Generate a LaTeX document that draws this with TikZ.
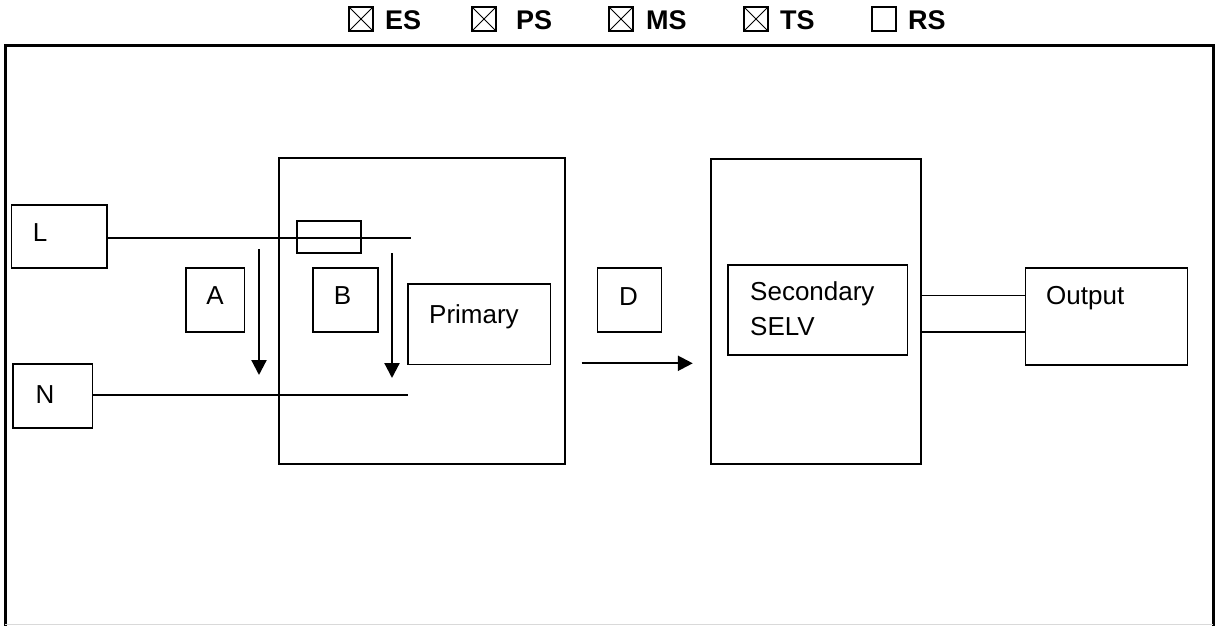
\documentclass[tikz,border=0pt]{standalone}
\usepackage{fontspec}
\setmainfont{Liberation Sans}
\usetikzlibrary{arrows.meta}
\begin{document}
\begin{tikzpicture}[x=1pt,y=-1pt,
  box/.style={draw,line width=1.5pt,inner sep=0pt,outer sep=0pt,anchor=north west},
  bigbox/.style={box,line width=2pt},
  lbl/.style={inner sep=0pt,font=\fontsize{26}{30}\selectfont},
  hdr/.style={inner sep=0pt,anchor=base west,font=\fontsize{27}{30}\selectfont\bfseries},
  chk/.style={draw,line width=1.5pt,inner sep=0pt,outer sep=0pt,minimum size=24pt,anchor=north west},
  cross/.style={line width=0.9pt},
  wire/.style={line width=1.3pt},
  thickwire/.style={line width=2pt},
  arr/.style={line width=2.2pt,-{Triangle[width=15pt,length=15pt]}}]
\useasboundingbox (0,0) rectangle (1215,625);
% outer frame
\draw[line width=3pt] (5,626) -- (5,45) -- (1213,45) -- (1213,626);
\draw[black!15,line width=1pt] (5,624) -- (1213,624);
% header checkboxes
\node[chk] (cES) at (349,7) {};
\node[chk] (cPS) at (472,7) {};
\node[chk] (cMS) at (609,7) {};
\node[chk] (cTS) at (744,7) {};
\node[chk] (cRS) at (872,7) {};
\foreach \c in {cES,cPS,cMS,cTS}{
  \draw[cross] (\c.north west) -- (\c.south east) (\c.north east) -- (\c.south west);
}
\node[hdr] (tES) at (385,29) {ES};
\node[hdr] (tPS) at (516,29) {PS};
\node[hdr] (tMS) at (646,29) {MS};
\node[hdr] (tTS) at (780,29) {TS};
\node[hdr] (tRS) at (908,29) {RS};
% boxes
\node[bigbox,minimum width=285.5pt,minimum height=306pt] (PrimOuter) at (279,158) {};
\node[bigbox,minimum width=210pt,minimum height=305pt] (SecOuter) at (711,159) {};
\node[box,minimum width=95.5pt,minimum height=63pt] (L) at (11.5,205) {};
\node[box,minimum width=79.6pt,minimum height=64pt] (N) at (13,364) {};
\node[box,minimum width=58.5pt,minimum height=64pt] (A) at (186,268) {};
\node[box,minimum width=65pt,minimum height=64pt] (B) at (313,268) {};
\node[box,minimum width=142.5pt,minimum height=80.5pt] (Primary) at (408,284) {};
\node[box,minimum width=64pt,minimum height=64pt] (D) at (597.6,268) {};
\node[box,minimum width=179.5pt,minimum height=90pt] (Secondary) at (728,265) {};
\node[box,minimum width=162pt,minimum height=97pt] (Output) at (1025.7,268) {};
% wires
\coordinate (Lend) at (411,238);
\coordinate (Nend) at (408,395);
\draw[wire] (L.east |- Lend) -- (Lend);
\draw[thickwire] (N.east |- Nend) -- (Nend);
\node[box,minimum width=64pt,minimum height=32pt] (fuse) at (297,221) {};
\coordinate (o1) at (0,295.7);
\coordinate (o2) at (0,332);
\draw[wire] (SecOuter.east |- o1) -- (Output.west |- o1);
\draw[wire] (SecOuter.east |- o2) -- (Output.west |- o2);
% arrows
\coordinate (As) at (259,249);
\coordinate (Ae) at (259,375);
\coordinate (Bs) at (392,253);
\coordinate (Be) at (392,378);
\coordinate (Ds) at (581.7,363.3);
\coordinate (De) at (692.8,363.3);
\draw[arr] (As) -- (Ae);
\draw[arr] (Bs) -- (Be);
\draw[arr] (Ds) -- (De);
% labels
\node[lbl,anchor=base] (tL) at (40,241) {L};
\node[lbl,anchor=base] (tN) at (45,403) {N};
\node[lbl,anchor=base] (tA) at (215,304) {A};
\node[lbl,anchor=base] (tB) at (342.5,304) {B};
\node[lbl,anchor=base west] (tPrimary) at (429,323) {Primary};
\node[lbl,anchor=base] (tD) at (628.5,305) {D};
\node[lbl,anchor=base west] (tSec) at (750,300) {Secondary};
\node[lbl,anchor=base west] (tSELV) at (750,335) {SELV};
\node[lbl,anchor=base west] (tOut) at (1046,304) {Output};
\end{tikzpicture}
\end{document}
